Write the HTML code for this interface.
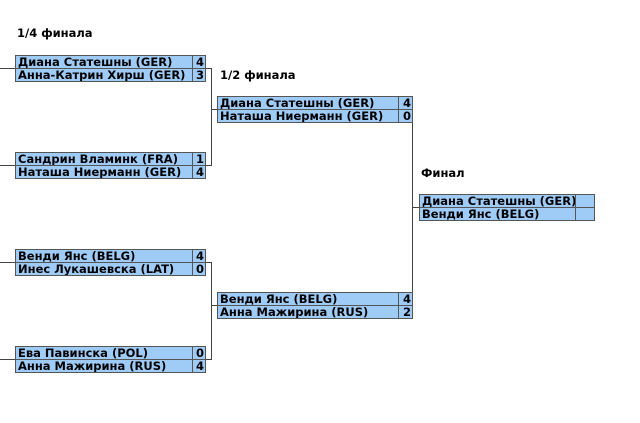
<!DOCTYPE html><html><head><meta charset="utf-8"><style>
body{margin:0;width:640px;height:423px;background:#fff;position:relative;overflow:hidden;font-family:"DejaVu Sans","Liberation Sans",sans-serif;font-weight:bold;font-size:11.5px;color:#000}
.l{position:absolute;background:#444}
.h{position:absolute;font-size:11.5px}
.b{position:absolute;border-collapse:collapse;table-layout:fixed}
.b td{background:#9fcbf7;border:1px solid #555;height:12px;padding:0 1px 0 2px;line-height:12px;white-space:nowrap;overflow:hidden;font-size:11.5px}
.b td.s{text-align:right}
</style></head><body>
<div class="h" style="left:17px;top:26px">1/4 финала</div>
<div class="h" style="left:220px;top:68px">1/2 финала</div>
<div class="h" style="left:421px;top:166px">Финал</div>

<div class="l" style="left:0;top:68px;width:211px;height:1px"></div>
<div class="l" style="left:0;top:165px;width:211px;height:1px"></div>
<div class="l" style="left:211px;top:68px;width:1px;height:98px"></div>
<div class="l" style="left:211px;top:109px;width:202px;height:1px"></div>

<div class="l" style="left:0;top:262px;width:211px;height:1px"></div>
<div class="l" style="left:0;top:359px;width:211px;height:1px"></div>
<div class="l" style="left:211px;top:262px;width:1px;height:98px"></div>
<div class="l" style="left:211px;top:305px;width:202px;height:1px"></div>

<div class="l" style="left:412px;top:109px;width:1px;height:197px"></div>
<div class="l" style="left:412px;top:207px;width:10px;height:1px"></div>

<table class="b" style="left:15px;top:55px;width:191px"><tr><td>Диана Статешны (GER)</td><td class="s" style="width:9px">4</td></tr><tr><td>Анна-Катрин Хирш (GER)</td><td class="s">3</td></tr></table>
<table class="b" style="left:15px;top:152px;width:191px"><tr><td>Сандрин Вламинк (FRA)</td><td class="s" style="width:9px">1</td></tr><tr><td>Наташа Ниерманн (GER)</td><td class="s">4</td></tr></table>
<table class="b" style="left:15px;top:249px;width:191px"><tr><td>Венди Янс (BELG)</td><td class="s" style="width:9px">4</td></tr><tr><td>Инес Лукашевска (LAT)</td><td class="s">0</td></tr></table>
<table class="b" style="left:15px;top:346px;width:191px"><tr><td>Ева Павинска (POL)</td><td class="s" style="width:9px">0</td></tr><tr><td>Анна Мажирина (RUS)</td><td class="s">4</td></tr></table>

<table class="b" style="left:217px;top:96px;width:196px"><tr><td>Диана Статешны (GER)</td><td class="s" style="width:10px">4</td></tr><tr><td>Наташа Ниерманн (GER)</td><td class="s">0</td></tr></table>
<table class="b" style="left:217px;top:292px;width:196px"><tr><td>Венди Янс (BELG)</td><td class="s" style="width:10px">4</td></tr><tr><td>Анна Мажирина (RUS)</td><td class="s">2</td></tr></table>

<table class="b" style="left:419px;top:194px;width:176px"><tr><td>Диана Статешны (GER)</td><td class="s" style="width:15px"></td></tr><tr><td>Венди Янс (BELG)</td><td class="s"></td></tr></table>
</body></html>
